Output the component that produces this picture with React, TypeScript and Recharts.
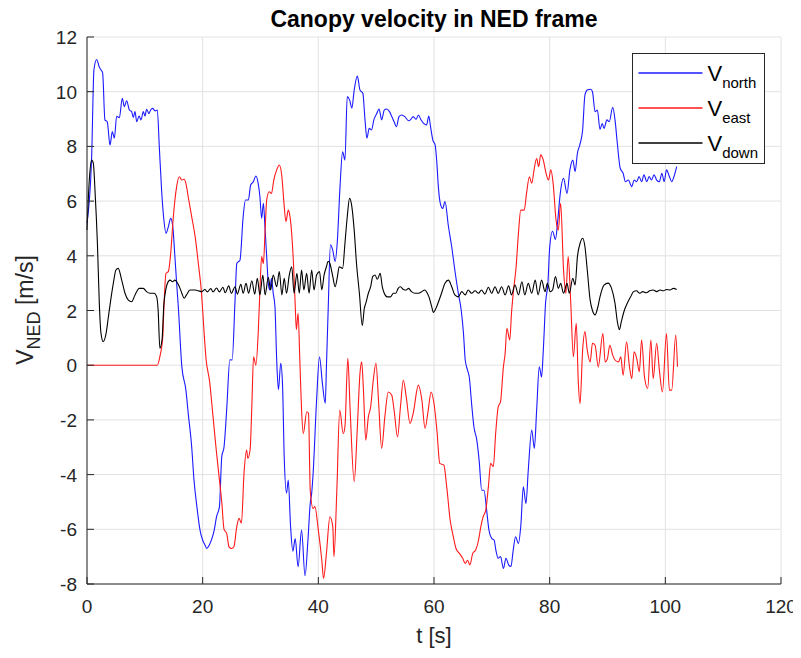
import React from 'react';
import { LineChart, Line, XAxis, YAxis, CartesianGrid } from 'recharts';

const W = 793;
const H = 642;
const PLOT = { left: 79, top: 29, right: 773, bottom: 576 };
const AXIS = '#262626';
const GRID = '#e2e2e2';
const FONT = '"Liberation Sans", Arial, Helvetica, sans-serif';
const TICK_LEN = 7;

const xTicks = [0, 20, 40, 60, 80, 100, 120];
const yTicks = [-8, -6, -4, -2, 0, 2, 4, 6, 8, 10, 12];

// [t (s), velocity (m/s)]
const vNorth: [number, number][] = [
  [0, 5.2], [0.8, 7.6], [1.2, 10.8], [1.67, 11.18], [2.13, 10.9], [2.4, 10.8], [2.7, 10.7], [3.1, 8.97],
  [3.5, 8.9], [3.98, 8.05], [4.38, 8.54], [4.73, 8.3], [5.13, 9.1], [5.6, 9.05], [6.1, 9.76], [6.46, 9.45],
  [6.86, 9.67], [7.32, 9.33], [7.72, 9.27], [8.0, 9.06], [8.3, 9.27], [8.6, 8.9], [9.0, 9.11], [9.34, 8.97],
  [9.74, 9.27], [10.03, 9.11], [10.3, 9.36], [10.7, 9.2], [11.0, 9.33], [11.35, 9.39], [11.76, 9.3],
  [12.16, 9.33], [12.5, 8.0], [12.9, 6.4], [13.3, 5.3], [13.66, 4.82], [14.06, 5.06], [14.47, 5.37],
  [14.8, 5.13], [15.2, 3.97], [15.5, 3.0], [15.8, 2.1], [16.4, -0.06], [17.1, -0.9], [17.5, -1.76],
  [18.1, -2.98], [18.5, -4.2], [19.0, -5.17], [19.54, -6.03], [20.0, -6.4], [20.4, -6.57], [20.7, -6.7],
  [21.15, -6.57], [21.55, -6.37], [22.0, -6.03], [22.4, -5.54], [22.9, -5.17], [23.3, -3.35], [23.7, -2.98],
  [24.15, -1.64], [24.7, 0.2], [25.1, 0.19], [25.6, 2.38], [25.9, 3.72], [26.45, 3.84], [27.0, 5.43],
  [27.4, 6.04], [27.9, 6.04], [28.3, 6.59], [28.76, 6.71], [29.2, 6.92], [29.6, 6.65], [29.9, 6.16],
  [30.2, 5.37], [30.5, 5.92], [30.8, 4.94], [31.07, 3.97], [31.35, 2.99], [31.6, 2.75], [31.9, 3.18],
  [32.2, 2.63], [32.5, 2.14], [32.8, 0.19], [33.1, -0.9], [33.5, 0.07], [33.8, -0.66], [34.1, -3.35],
  [34.5, -4.68], [34.8, -4.2], [35.2, -5.9], [35.6, -6.8], [36.0, -6.34], [36.5, -7.37], [37.1, -6.03],
  [37.7, -7.7], [38.2, -6.4], [38.6, -5.05], [38.85, -4.68], [39.1, -3.95], [39.7, -1.27], [40.2, 0.31],
  [40.7, -0.66], [41.2, -1.39], [41.4, -0.06], [41.7, 2.02], [42.1, 4.4], [42.5, 4.2], [42.9, 3.79],
  [43.3, 4.58], [43.75, 6.53], [44.2, 7.8], [44.6, 7.5], [45.0, 9.82], [45.4, 9.7], [45.8, 9.4],
  [46.2, 10.06], [46.75, 10.57], [47.2, 10.06], [47.7, 9.94], [48.07, 8.97], [48.4, 8.3], [48.8, 8.66],
  [49.2, 8.6], [49.6, 8.97], [50.1, 9.2], [50.5, 9.37], [50.95, 8.97], [51.4, 9.33], [51.8, 9.37],
  [52.3, 9.27], [52.7, 9.09], [53.1, 8.9], [53.5, 8.72], [53.95, 9.09], [54.4, 9.15], [54.95, 9.09],
  [55.6, 8.94], [56.0, 8.99], [56.4, 9.09], [56.9, 8.99], [57.3, 9.15], [57.7, 8.99], [58.2, 8.84],
  [58.7, 8.78], [59.1, 9.11], [59.4, 8.72], [59.8, 8.23], [60.2, 8.05], [60.5, 7.38], [60.75, 6.53],
  [61.15, 5.86], [61.5, 5.73], [61.9, 5.98], [62.5, 5.07], [63.06, 4.33], [63.6, 3.48], [64.2, 2.63],
  [64.7, 2.02], [65.1, 1.16], [65.4, 0.19], [65.8, -0.18], [66.1, -0.43], [66.5, -1.4], [66.9, -2.25],
  [67.4, -2.74], [67.8, -3.47], [68.25, -4.57], [68.65, -4.57], [69.1, -5.3], [69.5, -6.03], [69.97, -6.33],
  [70.4, -6.4], [70.7, -6.76], [71.1, -7.06], [71.5, -7.0], [72.0, -7.43], [72.45, -7.06], [72.9, -7.3],
  [73.3, -7.36], [73.7, -6.76], [74.1, -6.27], [74.6, -6.52], [75.0, -5.9], [75.45, -4.45], [75.9, -5.06],
  [76.3, -3.84], [76.9, -2.37], [77.35, -3.04], [77.75, -1.64], [78.2, -0.06], [78.6, -0.43], [78.9, 0.55],
  [79.3, 2.3], [79.7, 3.0], [80.0, 4.3], [80.5, 4.9], [81.0, 4.6], [81.4, 5.3], [81.8, 6.22], [82.4, 6.83],
  [83.0, 6.28], [83.5, 7.14], [84.0, 7.5], [84.4, 7.08], [84.8, 7.75], [85.2, 8.05], [85.7, 8.6],
  [86.1, 9.88], [86.5, 10.06], [87.1, 10.09], [87.4, 10.0], [87.85, 9.27], [88.25, 9.33], [88.7, 8.62],
  [89.1, 8.84], [89.4, 8.66], [89.9, 8.97], [90.3, 8.9], [90.9, 9.43], [91.3, 8.97], [91.7, 8.11],
  [92.2, 7.2], [92.7, 7.02], [93.1, 6.71], [93.6, 6.77], [94.2, 6.53], [94.6, 6.77], [95.05, 6.71],
  [95.45, 6.9], [95.9, 6.71], [96.3, 6.96], [96.8, 6.71], [97.2, 6.9], [97.6, 6.77], [98.05, 6.96],
  [98.5, 6.77], [98.97, 6.71], [99.4, 7.02], [99.8, 6.71], [100.2, 7.14], [100.7, 6.9], [101.1, 6.71],
  [101.5, 6.9], [101.97, 7.26],
];

const vEast: [number, number][] = [
  [0, 0], [12.16, 0], [12.6, 0.31], [13.1, 1.04], [13.3, 2.1], [13.66, 3.36], [14.06, 3.42], [14.47, 4.09],
  [14.93, 5.43], [15.5, 6.53], [15.96, 6.89], [16.4, 6.77], [16.8, 6.8], [17.1, 6.65], [17.5, 6.16],
  [18.1, 5.43], [18.7, 4.7], [19.25, 3.72], [19.8, 2.63], [20.0, 2.0], [20.6, 0.2], [21.2, -0.6],
  [21.8, -1.9], [22.3, -3.0], [22.8, -4.0], [23.3, -5.0], [23.7, -6.0], [24.15, -6.15], [24.55, -6.64],
  [25.0, -6.7], [25.4, -6.64], [25.9, -5.9], [26.3, -5.6], [26.7, -5.78], [27.15, -3.95], [27.6, -3.1],
  [27.8, -3.4], [28.2, -3.1], [28.5, -1.52], [28.8, 0.31], [29.2, 0.0], [29.6, 1.16], [29.9, 2.75],
  [30.2, 3.97], [30.5, 3.72], [30.8, 4.94], [31.07, 6.04], [31.5, 6.34], [31.9, 6.28], [32.3, 6.77],
  [32.8, 7.14], [33.25, 7.32], [33.7, 6.89], [34.06, 5.92], [34.4, 5.25], [34.8, 5.67], [35.1, 5.43],
  [35.7, 3.72], [36.0, 2.2], [36.2, 1.3], [36.5, 1.9], [36.8, 0.19], [37.1, -1.64], [37.4, -2.5],
  [38.0, -1.7], [38.3, -1.76], [38.6, -4.57], [39.1, -5.24], [39.4, -5.17], [40.0, -6.03], [40.6, -7.13],
  [40.9, -7.8], [41.4, -6.88], [42.0, -5.54], [42.5, -5.9], [42.7, -7.0], [43.2, -4.57], [43.7, -1.64],
  [44.3, -2.5], [44.6, -2.25], [45.1, 0.25], [45.5, -1.64], [46.2, -4.26], [46.75, -2.25], [47.2, -0.3],
  [47.5, 0.12], [47.8, -0.91], [48.2, -2.74], [48.65, -1.89], [49.05, -1.52], [49.5, -0.55], [49.97, 0.07],
  [50.4, -1.27], [50.95, -3.04], [51.5, -1.89], [52.1, -0.98], [52.7, -1.1], [53.1, -1.64], [53.7, -2.62],
  [54.2, -1.52], [54.7, -0.55], [55.2, -1.16], [55.85, -2.13], [56.4, -1.76], [57.3, -0.73], [57.9, -1.27],
  [58.45, -2.31], [59.0, -1.64], [59.5, -0.98], [60.0, -1.4], [60.5, -2.37], [61.0, -3.59], [61.7, -3.65],
  [62.2, -4.45], [62.8, -5.67], [63.35, -6.28], [63.8, -6.7], [64.4, -6.88], [64.96, -7.06], [65.4, -7.25],
  [65.8, -7.13], [66.2, -7.3], [66.7, -6.88], [67.2, -6.76], [67.7, -6.4], [68.1, -5.9], [68.5, -5.54],
  [68.95, -5.3], [69.4, -4.45], [69.8, -3.59], [70.26, -3.71], [70.66, -2.5], [71.1, -1.52], [71.5, -1.34],
  [72.0, -0.06], [72.3, 0.43], [72.6, 1.35], [73.1, 0.92], [73.4, 1.9], [73.7, 2.63], [74.2, 3.6],
  [74.6, 4.82], [75.0, 5.67], [75.6, 5.67], [76.0, 6.28], [76.5, 6.89], [76.9, 6.65], [77.3, 7.14],
  [77.75, 7.56], [78.1, 7.26], [78.45, 7.69], [78.9, 7.5], [79.37, 7.02], [79.8, 6.77], [80.2, 7.14],
  [80.6, 6.65], [81.1, 5.31], [81.5, 4.94], [81.9, 5.92], [82.4, 3.48], [82.8, 2.63], [83.2, 3.97],
  [83.6, 2.51], [84.1, 0.31], [84.6, 1.53], [84.96, -0.66], [85.25, -1.4], [85.7, 0.55], [86.1, 1.23],
  [86.5, 0.55], [87.0, 0.12], [87.4, 0.8], [87.85, 0.73], [88.4, -0.06], [89.2, 1.16], [89.6, 0.12],
  [90.0, 0.25], [90.4, 0.73], [90.9, 0.37], [91.3, 0.19], [91.9, 0.12], [92.3, 0.31], [92.7, -0.37],
  [93.3, 0.86], [93.8, -0.06], [94.2, -0.49], [94.6, 0.49], [95.05, 0.25], [95.5, -0.24], [95.9, 0.92],
  [96.4, -0.43], [96.95, -0.85], [97.5, 0.92], [97.9, -0.49], [98.5, 0.8], [98.97, -0.18], [99.5, -0.98],
  [100.2, 1.16], [100.7, -0.91], [101.1, -0.91], [101.8, 1.1], [102.1, -0.06],
];

const vDown: [number, number][] = [
  [0, 4.94], [0.4, 6.77], [0.8, 7.5], [1.1, 7.38], [1.38, 6.4], [1.8, 4.45], [2.13, 2.26], [2.4, 1.2],
  [2.8, 0.86], [3.3, 1.16], [3.7, 1.77], [4.1, 2.38], [4.55, 2.99], [5.0, 3.48], [5.4, 3.54], [6.0, 3.11],
  [6.57, 2.63], [7.15, 2.38], [7.72, 2.32], [8.3, 2.57], [9.05, 2.81], [9.74, 2.81], [10.3, 2.69],
  [10.9, 2.63], [11.6, 2.63], [12.05, 2.5], [12.3, 2.02], [12.6, 0.62], [12.97, 0.92], [13.3, 2.26],
  [13.5, 2.6], [13.9, 2.99], [14.35, 3.11], [14.8, 3.05], [15.2, 3.11], [15.5, 3.05], [15.97, 2.87],
  [16.4, 2.63], [16.8, 2.45], [17.2, 2.57], [17.8, 2.75], [18.7, 2.75], [19.25, 2.72], [19.8, 2.69],
  [20.4, 2.77], [20.8, 2.68], [21.4, 2.8], [21.8, 2.68], [22.4, 2.82], [22.9, 2.68], [23.5, 2.85],
  [23.9, 2.65], [24.5, 2.9], [24.96, 2.63], [25.6, 2.87], [26.0, 2.6], [26.6, 2.96], [27.0, 2.63],
  [27.5, 2.99], [27.95, 2.63], [28.5, 3.09], [29.0, 2.6], [29.45, 3.18], [29.9, 2.57], [30.4, 3.3],
  [30.8, 2.57], [31.35, 3.21], [31.75, 2.75], [32.2, 3.3], [32.8, 2.87], [33.25, 3.42], [33.7, 2.57],
  [34.1, 3.18], [34.5, 2.63], [34.98, 3.3], [35.4, 3.6], [35.8, 2.63], [36.3, 3.36], [36.7, 2.63],
  [37.1, 3.48], [37.5, 2.75], [37.98, 3.36], [38.4, 2.63], [38.85, 3.48], [39.25, 2.75], [39.7, 3.3],
  [40.2, 3.42], [40.6, 2.75], [41.0, 3.3], [41.4, 3.6], [41.7, 3.8], [42.0, 3.72], [42.5, 3.24],
  [42.9, 2.87], [43.3, 3.24], [43.6, 3.6], [44.2, 3.54], [44.6, 4.45], [45.0, 5.43], [45.4, 6.1],
  [45.8, 5.79], [46.2, 4.94], [46.6, 3.72], [47.1, 2.63], [47.6, 1.45], [47.95, 2.08], [48.2, 2.26],
  [48.65, 2.63], [49.05, 2.87], [49.4, 3.24], [49.8, 3.3], [50.2, 3.14], [50.7, 3.36], [51.05, 2.87],
  [51.4, 2.63], [51.9, 2.5], [52.5, 2.5], [52.97, 2.63], [53.4, 2.63], [53.8, 2.81], [54.2, 2.87],
  [54.7, 2.77], [55.2, 2.75], [55.6, 2.81], [56.1, 2.69], [56.7, 2.63], [57.3, 2.63], [57.9, 2.69],
  [58.4, 2.75], [58.85, 2.63], [59.2, 2.45], [59.6, 2.14], [59.9, 1.93], [60.3, 2.06], [60.75, 2.3],
  [61.3, 2.63], [61.9, 3.0], [62.5, 3.11], [63.06, 2.87], [63.6, 2.57], [64.2, 2.5], [64.8, 2.69],
  [65.4, 2.57], [65.9, 2.75], [66.5, 2.63], [67.1, 2.72], [67.7, 2.63], [68.2, 2.75], [68.8, 2.6],
  [69.4, 2.85], [69.97, 2.63], [70.55, 2.87], [71.1, 2.63], [71.7, 2.87], [72.3, 2.57], [72.9, 2.9],
  [73.4, 2.57], [74.0, 2.93], [74.6, 2.57], [75.2, 3.05], [75.7, 2.57], [76.3, 2.99], [76.9, 2.63],
  [77.5, 3.11], [78.0, 2.57], [78.6, 3.11], [79.2, 2.69], [79.6, 2.99], [80.1, 2.69], [80.5, 2.75],
  [81.0, 3.24], [81.5, 2.81], [81.9, 2.99], [82.4, 2.63], [83.0, 2.99], [83.4, 2.63], [84.0, 3.18],
  [84.4, 2.93], [84.8, 3.97], [85.25, 4.45], [85.7, 4.64], [86.1, 4.33], [86.5, 3.48], [87.0, 2.38],
  [87.4, 2.0], [87.85, 1.84], [88.3, 2.1], [88.7, 2.5], [89.4, 2.93], [90.1, 3.0], [90.7, 2.81],
  [91.3, 2.26], [91.7, 1.6], [92.05, 1.3], [92.4, 1.6], [92.9, 2.0], [93.5, 2.3], [94.0, 2.5],
  [94.5, 2.69], [95.0, 2.72], [95.6, 2.63], [96.1, 2.69], [96.7, 2.65], [97.3, 2.72], [97.9, 2.75],
  [98.5, 2.69], [99.1, 2.75], [99.7, 2.72], [100.2, 2.77], [100.8, 2.75], [101.4, 2.81], [101.97, 2.77],
];

const toRows = (pts: [number, number][]) => pts.map(([t, v]) => ({ t, v }));

const series = [
  { sub: 'north', color: '#1a1aff', data: toRows(vNorth) },
  { sub: 'east', color: '#ff1a1a', data: toRows(vEast) },
  { sub: 'down', color: '#000000', data: toRows(vDown) },
];

// MATLAB-style ticks: short marks pointing into the plot box
const BottomTick = ({ x, y, payload }: any) => (
  <g>
    <line x1={x} y1={y} x2={x} y2={y - TICK_LEN} stroke={AXIS} />
    <text x={x} y={y + 29} textAnchor="middle" fill={AXIS} fontSize={19} fontFamily={FONT}>
      {payload.value}
    </text>
  </g>
);

const TopTick = ({ x, y }: any) => (
  <line x1={x} y1={y} x2={x} y2={y + TICK_LEN} stroke={AXIS} />
);

const LeftTick = ({ x, y, payload }: any) => (
  <g>
    <line x1={x} y1={y} x2={x + TICK_LEN} y2={y} stroke={AXIS} />
    <text x={x - 10} y={y + 7} textAnchor="end" fill={AXIS} fontSize={19} fontFamily={FONT}>
      {payload.value}
    </text>
  </g>
);

const RightTick = ({ x, y }: any) => (
  <line x1={x} y1={y} x2={x - TICK_LEN} y2={y} stroke={AXIS} />
);

const Legend = () => (
  <g transform="translate(624.5 45.5)">
    <rect width={132} height={110} fill="#fff" stroke={AXIS} strokeWidth={1} />
    {series.map((s, i) => {
      const cy = 19.5 + i * 35;
      return (
        <g key={s.sub}>
          <line x1={6} y1={cy} x2={70} y2={cy} stroke={s.color} strokeWidth={1.3} />
          <text x={75} y={cy + 8} fill="#000" fontSize={22} fontFamily={FONT}>
            V
            <tspan fontSize={15} dy={7}>{s.sub}</tspan>
          </text>
        </g>
      );
    })}
  </g>
);

export default function App() {
  return (
    <div style={{ position: 'relative', width: W, height: H, background: '#fff' }}>
      <LineChart
        width={W}
        height={H}
        margin={{ top: PLOT.top, right: W - PLOT.right, bottom: 0, left: 0 }}
      >
        <CartesianGrid stroke={GRID} strokeDasharray="" />
        <XAxis
          dataKey="t"
          type="number"
          domain={[0, 120]}
          ticks={xTicks}
          interval={0}
          height={H - PLOT.bottom}
          tickSize={0}
          tickMargin={0}
          tickLine={false}
          axisLine={{ stroke: AXIS }}
          tick={BottomTick}
        />
        <XAxis
          xAxisId="top"
          orientation="top"
          type="number"
          domain={[0, 120]}
          ticks={xTicks}
          interval={0}
          height={0}
          tickSize={0}
          tickMargin={0}
          tickLine={false}
          axisLine={{ stroke: AXIS }}
          tick={TopTick}
        />
        <YAxis
          type="number"
          domain={[-8, 12]}
          ticks={yTicks}
          interval={0}
          width={PLOT.left}
          tickSize={0}
          tickMargin={0}
          tickLine={false}
          axisLine={{ stroke: AXIS }}
          tick={LeftTick}
        />
        <YAxis
          yAxisId="right"
          orientation="right"
          type="number"
          domain={[-8, 12]}
          ticks={yTicks}
          interval={0}
          width={0}
          tickSize={0}
          tickMargin={0}
          tickLine={false}
          axisLine={{ stroke: AXIS }}
          tick={RightTick}
        />
        {series.map((s) => (
          <Line
            key={s.sub}
            data={s.data}
            dataKey="v"
            type="monotone"
            stroke={s.color}
            strokeWidth={1.1}
            dot={false}
            activeDot={false}
            isAnimationActive={false}
          />
        ))}
      </LineChart>
      <svg
        width={W}
        height={H}
        style={{ position: 'absolute', left: 0, top: 0, pointerEvents: 'none', overflow: 'visible' }}
      >
        <text x={426} y={19} textAnchor="middle" fontSize={23} fontWeight="bold" fontFamily={FONT} fill="#000">
          Canopy velocity in NED frame
        </text>
        <text x={426} y={635} textAnchor="middle" fontSize={22} fontFamily={FONT} fill={AXIS}>
          t [s]
        </text>
        <text
          transform="translate(25 302) rotate(-90)"
          textAnchor="middle"
          fontSize={23}
          fontFamily={FONT}
          fill={AXIS}
        >
          V<tspan fontSize={18} dy={7}>NED</tspan>
          <tspan dy={-7}> [m/s]</tspan>
        </text>
        <Legend />
      </svg>
    </div>
  );
}
